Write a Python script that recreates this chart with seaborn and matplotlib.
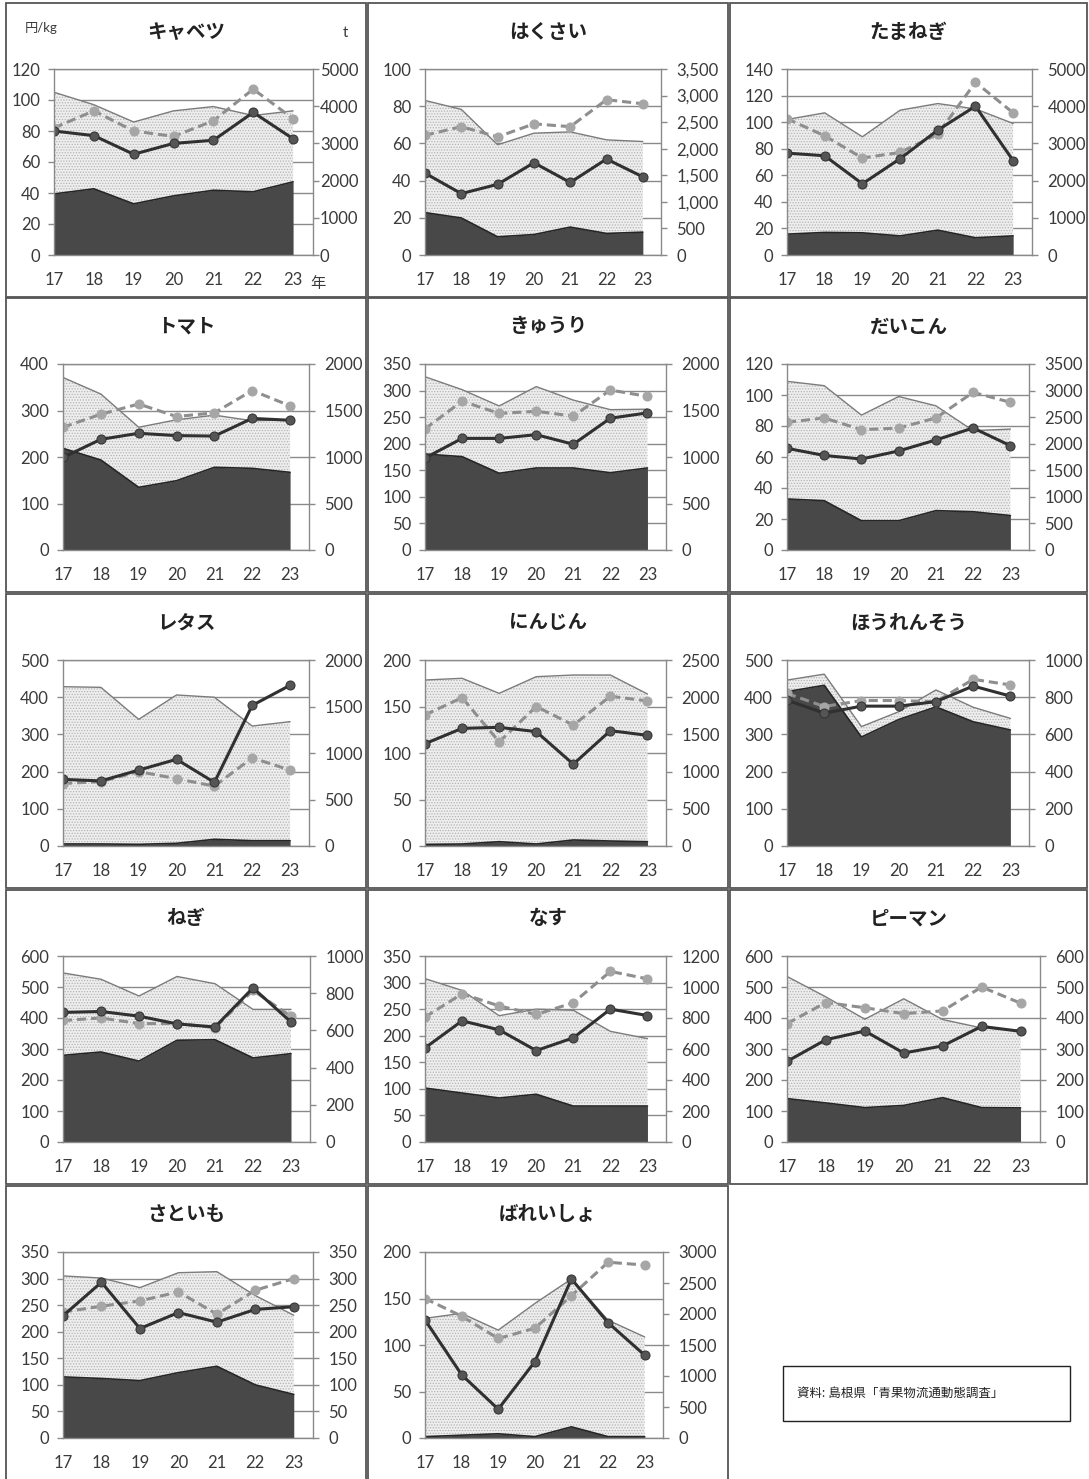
import numpy as np
import pandas as pd
import seaborn as sns
import matplotlib.pyplot as plt
from matplotlib.patches import Rectangle
from matplotlib.ticker import FuncFormatter

# years (H17 - H23)
years = [17, 18, 19, 20, 21, 22, 23]

names = ['キャベツ', 'はくさい', 'たまねぎ', 'トマト', 'きゅうり', 'だいこん', 'レタス',
         'にんじん', 'ほうれんそう', 'ねぎ', 'なす', 'ピーマン', 'さといも', 'ばれいしょ']

# quantity (t), right axis: total and local
qty_total = [
    [4375, 4040, 3575, 3875, 3990, 3750, 3875],
    [2908, 2740, 2075, 2292, 2317, 2167, 2135],
    [3643, 3821, 3178, 3893, 4071, 3928, 3535],
    [1855, 1677, 1320, 1400, 1450, 1390, 1400],
    [1863, 1724, 1549, 1757, 1612, 1509, 1514],
    [3174, 3092, 2538, 2888, 2713, 2246, 2275],
    [1713, 1706, 1362, 1624, 1599, 1290, 1337],
    [2231, 2254, 2052, 2276, 2298, 2298, 2043],
    [892, 924, 642, 722, 839, 746, 686],
    [909, 875, 785, 890, 851, 713, 713],
    [1054, 978, 815, 857, 850, 714, 667],
    [534, 468, 396, 462, 395, 368, 360],
    [305, 301, 283, 311, 313, 268, 231],
    [1930, 2010, 1740, 2170, 2565, 1900, 1630],
]
qty_local = [
    [1642, 1780, 1375, 1590, 1740, 1700, 1967],
    [798, 697, 343, 385, 525, 406, 430],
    [560, 607, 596, 514, 668, 464, 514],
    [1093, 968, 674, 745, 889, 878, 835],
    [1032, 1004, 825, 882, 882, 831, 882],
    [960, 928, 551, 551, 741, 720, 648],
    [22, 22, 18, 29, 72, 57, 57],
    [22, 27, 58, 27, 81, 67, 58],
    [830, 864, 586, 680, 748, 668, 624],
    [466, 484, 435, 547, 550, 452, 475],
    [348, 316, 284, 308, 232, 232, 232],
    [140, 126, 111, 118, 143, 111, 110],
    [115, 112, 108, 123, 135, 100, 82],
    [22, 45, 68, 22, 180, 22, 22],
]

# price (yen/kg), left axis
price_solid = [
    [80, 77, 65, 72, 74, 92, 75],
    [44, 33, 38, 49.6, 39, 51.6, 42],
    [76.7, 74.7, 53.6, 72.5, 94, 112, 71],
    [199, 238, 251, 246, 245, 283, 279],
    [173, 210, 210, 217, 199, 248, 258],
    [65.6, 61, 58.7, 63.9, 71, 78.7, 67.3],
    [179, 175, 204, 233, 171, 378, 432],
    [110, 126.5, 127.6, 123, 88, 124, 119],
    [392, 357, 376, 376, 388, 430, 403],
    [418, 421, 406, 381, 371, 497, 387],
    [177, 228, 211, 172, 196, 250, 238],
    [260, 330, 358, 287, 310, 373, 357],
    [230, 293, 206, 236, 218, 242, 247],
    [127, 68, 31, 82, 171, 124, 89],
]
price_dash = [
    [82, 93, 80, 76.5, 86.6, 107, 88],
    [64.4, 69, 63.5, 70.5, 69, 83.5, 81.3],
    [102.6, 89.7, 73, 77.2, 91, 130, 107],
    [264, 292, 314, 287, 295, 343, 310],
    [228, 280, 257, 261, 252, 301, 289],
    [82.4, 85.2, 77.6, 78.7, 85.2, 101.7, 95.3],
    [168, 173, 200, 181, 161, 237, 204],
    [141, 159.5, 112, 150, 130, 161, 156],
    [410, 375, 391, 391, 388, 448, 433],
    [392, 400, 382, 382, 369, 489, 405],
    [235, 279, 256, 240, 262, 321, 307],
    [382, 450, 433, 414, 423, 500, 448],
    [237, 248, 258, 275, 233, 278, 300],
    [150, 131, 107, 118, 153, 189, 186],
]

left_max = [120, 100, 140, 400, 350, 120, 500, 200, 500, 600, 350, 600, 350, 200]
left_step = [20, 20, 20, 100, 50, 20, 100, 50, 100, 100, 50, 100, 50, 50]
right_max = [5000, 3500, 5000, 2000, 2000, 3500, 2000, 2500, 1000, 1000, 1200, 600, 350, 3000]
right_step = [1000, 500, 1000, 500, 500, 500, 500, 500, 200, 200, 200, 100, 50, 500]
right_comma = [False, True] + [False] * 12

# layout (pixels)
W, H = 1089, 1479
cell_x = [6, 368, 730]
cell_w = [360, 360, 357]
cell_y = [3, 298, 594, 890, 1186]
cell_h = 294
panel_w = [259, 236, 245, 246, 241, 242, 246, 241, 242, 247, 241, 253, 250, 238]

sns.set_style("white")
plt.rcParams['font.family'] = ['Lato', 'Noto Sans CJK JP', 'DejaVu Sans']
plt.rcParams['hatch.linewidth'] = 0.6

GRAY = '#8a8a8a'
TXT = '#3a3a3a'

fig = plt.figure(figsize=(W / 100, H / 100), dpi=100)


def px_axes(l, t, w, h):
    return fig.add_axes([l / W, 1 - (t + h) / H, w / W, h / H])


for i, name in enumerate(names):
    r, c = divmod(i, 3)
    cl, ct = cell_x[c], cell_y[r]
    fig.patches.append(Rectangle((cl / W, 1 - (ct + cell_h) / H), cell_w[c] / W, cell_h / H,
                                 transform=fig.transFigure, fill=False, ec='#555555', lw=1.3))
    fig.text((cl + cell_w[c] / 2) / W, 1 - (ct + 29) / H, name, ha='center', va='center',
             fontsize=14, fontweight='bold', color='#222222', family=['Noto Sans CJK JP'])

    pl = cl + (48 if i == 0 else 57)
    ax = px_axes(pl, ct + 66, panel_w[i], 186)
    ax2 = ax.twinx()
    ax.set_zorder(ax2.get_zorder() + 1)
    ax.patch.set_visible(False)

    ratio = right_max[i] / left_max[i]
    lt = np.arange(0, left_max[i] + left_step[i] / 2, left_step[i])
    rt = np.arange(0, right_max[i] + right_step[i] / 2, right_step[i])

    # grid follows the left axis, behind the areas
    ax2.hlines(lt * ratio, 17, 23.5, color=GRAY, lw=1.0, zorder=0)
    ax2.fill_between(years, qty_total[i], facecolor='#eeeeee', hatch='......',
                     edgecolor='#b4b4b4', linewidth=0, zorder=1)
    ax2.plot(years, qty_total[i], color='#7c7c7c', lw=1.0, zorder=2)
    ax2.fill_between(years, qty_local[i], facecolor='#484848', linewidth=0, zorder=3)
    ax2.plot(years, qty_local[i], color='#262626', lw=1.2, zorder=4)

    df = pd.DataFrame({'year': years, 'solid': price_solid[i], 'dash': price_dash[i]})
    sns.lineplot(data=df, x='year', y='dash', ax=ax, color='#8e8e8e', lw=2.2,
                 linestyle=(0, (3, 1.6)), marker='o', markersize=6.5,
                 markerfacecolor='#a6a6a6', markeredgecolor='#a6a6a6')
    sns.lineplot(data=df, x='year', y='solid', ax=ax, color='#303030', lw=2.2,
                 marker='o', markersize=6.5, markerfacecolor='#555555',
                 markeredgecolor='#333333')

    ax.set_xlim(17, 23.5)
    ax.set_ylim(0, left_max[i])
    ax2.set_ylim(0, right_max[i])
    ax.set_xticks(years)
    ax.set_yticks(lt)
    ax2.set_yticks(rt)
    ax.set_xlabel('')
    ax.set_ylabel('')
    ax2.set_ylabel('')
    if right_comma[i]:
        ax2.yaxis.set_major_formatter(FuncFormatter(lambda v, p: f'{v:,.0f}'))
    else:
        ax2.yaxis.set_major_formatter(FuncFormatter(lambda v, p: f'{v:.0f}'))

    for s in ax.spines.values():
        s.set_color(GRAY)
        s.set_linewidth(1.0)
    for s in ax2.spines.values():
        s.set_visible(False)
    ax.tick_params(axis='both', direction='out', length=4, width=1, color=GRAY,
                   labelsize=12, labelcolor=TXT, pad=6)
    ax.tick_params(axis='x', pad=8)
    ax2.tick_params(axis='y', direction='out', length=4, width=1, color=GRAY,
                    labelsize=12, labelcolor=TXT, pad=1 if i == 0 else 7)

    if i == 0:
        fig.text(25 / W, 1 - 28 / H, '円/kg', ha='left', va='center', fontsize=9.5, color=TXT)
        fig.text(345 / W, 1 - 33 / H, 't', ha='center', va='center', fontsize=11, color=TXT)
        fig.text(318 / W, 1 - 284 / H, '年', ha='center', va='center', fontsize=11, color=TXT)

# source box
fig.patches.append(Rectangle((783 / W, 1 - 1421 / H), 287 / W, 55 / H,
                             transform=fig.transFigure, fill=False, ec='#222222', lw=1.0))
fig.text(797 / W, 1 - 1393 / H, '資料: 島根県「青果物流通動態調査」', ha='left', va='center',
         fontsize=9, color='#222222')

fig.savefig('out.png', dpi=100)
